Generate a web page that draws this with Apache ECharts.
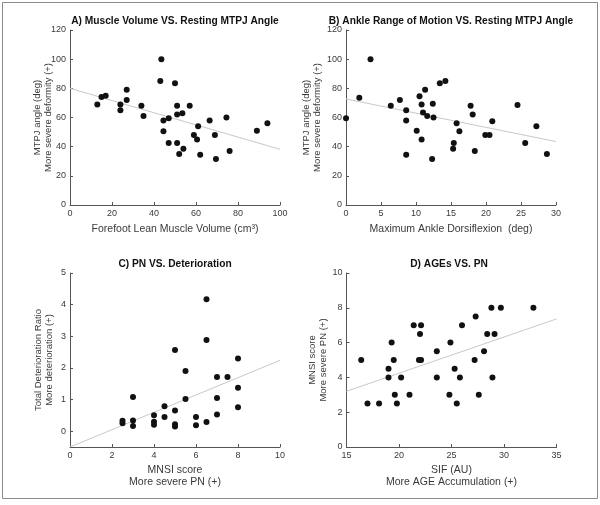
<!DOCTYPE html>
<html>
<head>
<meta charset="utf-8">
<script src="https://cdn.jsdelivr.net/npm/echarts@6/dist/echarts.min.js"></script>
<style>
html,body{margin:0;padding:0;background:#fff;}
#c{width:600px;height:505px;}
</style>
</head>
<body>
<div id="c"></div>
<script>
// Panel A: Forefoot lean muscle volume (cm3) vs MTPJ angle (deg)
const volA = [13,15,17,24,24,27,27,34,35,43.5,43,44.5,44.5,47,47,50,51,51,53.5,57,51,52,54,59,60.5,61,62,66.5,69,69.5,74.5,76,89,94];
const angA = [69,74,75,69,65,79,72,68,61,100,85,58,50.5,59.5,42.5,83.5,68,62,63,68,42.5,35,38.5,48,45,54,34.5,58,48,31.5,60,37,51,56];
const trendA = [[0,80],[100,38.2]];

// Panel B: Maximum ankle dorsiflexion (deg) vs MTPJ angle (deg)
const dorsB = [0,1.9,3.5,6.4,7.7,8.6,8.6,8.6,10.1,10.5,10.8,10.8,11,11.3,11.6,12.3,12.4,12.5,13.4,14.2,15.3,15.4,15.8,16.2,17.8,18.1,18.4,19.9,20.5,20.9,24.5,25.6,27.2,28.7];
const angB = [59.5,73.5,100,68,72,65,58,34.5,51,74.5,69,45,63.5,79,61,31.5,69.5,60,83.5,85,38.5,42.5,56,50.5,68,62,37,48,48,57.5,68.5,42.5,54,35];
const trendB = [[0,72.7],[30,43.5]];

// Panel C: MNSI score vs total deterioration ratio
const mnsiC = [2.5,2.5,3,3,3,4,4,4,4.5,4.5,5,5,5,5,5.5,5.5,6,6,6.5,6.5,6.5,7,7,7,7.5,8,8,8];
const detC = [0.33,0.25,1.08,0.34,0.16,0.5,0.3,0.2,0.79,0.45,2.57,0.65,0.22,0.15,1.9,1.02,0.45,0.19,4.17,2.88,0.29,1.71,1.05,0.53,1.71,2.3,1.37,0.76];
const trendC = [[0,-0.5],[10,2.24]];

// Panel D: SIF (AU) vs MNSI score
const sifD = [16.4,17,18.1,19,19,19.3,19.5,19.6,19.8,20.2,21,21.4,22.1,22,21.9,22.1,23.6,23.6,24.8,24.9,25.3,25.5,25.8,26,27.2,27.3,27.6,28.1,28.4,28.8,28.9,29.1,29.7,32.8];
const mnsiD = [5,2.5,2.5,4.5,4,6,5,3,2.5,4,3,7,7,6.5,5,5,5.5,4,3,6,4.5,2.5,4,7,5,7.5,3,5.5,6.5,8,4,6.5,8,8];
const trendD = [[15,3.2],[35,7.36]];

// Tick values for panel C y axis
const ticksCy = [0,1,2,3,4,5];

const pair = (xs, ys) => xs.map((x, i) => [x, ys[i]]);

const FONT = 'Liberation Sans, Arial, Helvetica, sans-serif';
const TXT = '#3a3a3a';
const AX = '#555';

function xAxisCfg(idx, min, max, interval, name, gap) {
  return {
    type: 'value', gridIndex: idx, min, max, interval,
    name, nameLocation: 'middle', nameGap: gap,
    nameTextStyle: {color: TXT, fontSize: 10.5, fontFamily: FONT, lineHeight: 12},
    axisLine: {show: true, onZero: false, lineStyle: {color: AX, width: 1}},
    axisTick: {show: true, inside: true, length: 3, lineStyle: {color: AX}},
    axisLabel: {color: TXT, fontSize: 9, fontFamily: FONT, margin: 4},
    splitLine: {show: false}
  };
}
function yAxisCfg(idx, min, max, interval, name, gap, extra) {
  const a = {
    type: 'value', gridIndex: idx, min, max, interval,
    name, nameLocation: 'middle', nameGap: gap, nameRotate: 90,
    nameMoveOverlap: false,
    nameTextStyle: {color: TXT, fontSize: 9.5, fontFamily: FONT, lineHeight: 11},
    axisLine: {show: true, onZero: false, lineStyle: {color: AX, width: 1}},
    axisTick: {show: true, inside: true, length: 3, lineStyle: {color: AX}},
    axisLabel: {color: TXT, fontSize: 9, fontFamily: FONT, margin: 4},
    splitLine: {show: false}
  };
  if (extra) {
    a.axisTick.customValues = extra;
    a.axisLabel.customValues = extra;
  }
  return a;
}
function scatter(idx, data) {
  return {type: 'scatter', xAxisIndex: idx, yAxisIndex: idx, data,
    symbolSize: 6, itemStyle: {color: '#111', opacity: 1}, z: 3, silent: true};
}
function trend(idx, data) {
  return {type: 'line', xAxisIndex: idx, yAxisIndex: idx, data,
    showSymbol: false, symbol: 'none', lineStyle: {color: '#c8c8c8', width: 1},
    z: 2, silent: true, animation: false};
}
function titleText(x, y, text) {
  return {type: 'text', x, y, style: {text, fill: '#111', font: 'bold 10.2px ' + FONT,
    textAlign: 'center', textVerticalAlign: 'middle'}};
}

const chart = echarts.init(document.getElementById('c'), null, {renderer: 'canvas'});
chart.setOption({
  animation: false,
  backgroundColor: '#fff',
  grid: [
    {left: 70, top: 30, width: 210, height: 175},
    {left: 346, top: 30, width: 210, height: 175},
    {left: 70, top: 273, width: 210, height: 174},
    {left: 346.5, top: 273, width: 210, height: 174}
  ],
  xAxis: [
    xAxisCfg(0, 0, 100, 20, 'Forefoot Lean Muscle Volume (cm³)', 18),
    xAxisCfg(1, 0, 30, 5, 'Maximum Ankle Dorsiflexion  (deg)', 18),
    xAxisCfg(2, 0, 10, 2, 'MNSI score\nMore severe PN (+)', 17),
    xAxisCfg(3, 15, 35, 5, 'SIF (AU)\nMore AGE Accumulation (+)', 17)
  ],
  yAxis: [
    yAxisCfg(0, 0, 120, 20, 'MTPJ angle (deg)\nMore severe deformity (+)', 16),
    yAxisCfg(1, 0, 120, 20, 'MTPJ angle (deg)\nMore severe deformity (+)', 23),
    yAxisCfg(2, -0.5, 5, 0.5, 'Total Deterioration Ratio\nMore deterioration (+)', 15.5, ticksCy),
    yAxisCfg(3, 0, 10, 2, 'MNSI score\nMore severe PN (+)', 18)
  ],
  series: [
    trend(0, trendA), scatter(0, pair(volA, angA)),
    trend(1, trendB), scatter(1, pair(dorsB, angB)),
    trend(2, trendC), scatter(2, pair(mnsiC, detC)),
    trend(3, trendD), scatter(3, pair(sifD, mnsiD))
  ],
  graphic: [
    {type: 'rect', shape: {x: 2.5, y: 2.5, width: 595, height: 496},
      style: {fill: 'none', stroke: '#8a8a8a', lineWidth: 1}, silent: true},
    titleText(175, 21, 'A) Muscle Volume VS. Resting MTPJ Angle'),
    titleText(451, 21, 'B) Ankle Range of Motion VS. Resting MTPJ Angle'),
    titleText(175, 264, 'C) PN VS. Deterioration'),
    titleText(449, 264, 'D) AGEs VS. PN')
  ]
});
</script>
</body>
</html>
